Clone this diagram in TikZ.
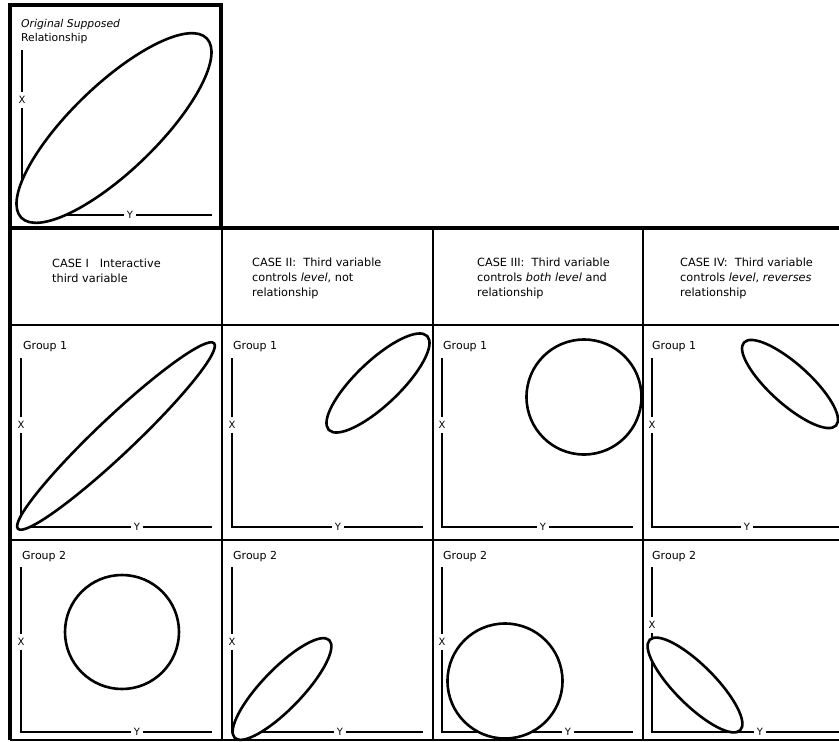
\documentclass[tikz,border=0pt]{standalone}
\usepackage{fontspec}
\setmainfont{DejaVu Sans}
\usepackage{tikz}
\usetikzlibrary{shapes.geometric}

% axes of one plot: name, axis x, top, X label y, corner y, Y label x, end x
\newcommand{\plotaxes}[7]{%
  \coordinate (#1-top) at (#2,#3);
  \coordinate (#1-o) at (#2,#5);
  \coordinate (#1-end) at (#7,#5);
  \node[axlab] (#1-x) at (#2,#4) {X};
  \node[axlab] (#1-y) at (#6,#5) {Y};
  \draw[axis] (#1-top) -- (#1-x);
  \draw[axis] (#1-x) -- (#1-o) -- (#1-y);
  \draw[axis] (#1-y) -- (#1-end);
}

\begin{document}
\begin{tikzpicture}[
  x=1pt, y=-1pt,
  frame/.style={line width=3.8pt},
  rule/.style={line width=2.4pt},
  axis/.style={line width=1.6pt},
  axlab/.style={inner xsep=2.5pt, inner ysep=4pt, font=\fontsize{10}{11}\selectfont},
  blob/.style={draw, fill=white, line width=2.6pt, inner sep=0pt},
  oval/.style={blob, ellipse},
  ring/.style={blob, circle},
  head/.style={anchor=north west, inner sep=0pt, align=left,
    font=\fontsize{11.3}{15}\selectfont},
  grp/.style={anchor=base west, inner sep=0pt, font=\fontsize{11}{12}\selectfont}
]
\useasboundingbox (0,0) rectangle (839,742);

% original relationship
\draw[frame] (10,5) rectangle (221,228);
\node[head, font=\fontsize{10.8}{14}\selectfont] (orig-t) at (21,19)
  {\textit{Original Supposed}\\Relationship};
\plotaxes{orig}{22}{50}{100}{215}{130}{212}
\node[oval, minimum width=258pt, minimum height=86pt, rotate=44] (orig-e) at (114,128) {};

% grid
\draw[frame] (10,228) -- (839,228);
\draw[frame] (10,228) -- (10,740);
\draw[rule] (10,325) -- (839,325);
\draw[rule] (10,540) -- (839,540);
\draw[rule] (10,740) -- (839,740);
\draw[rule] (222,228) -- (222,740);
\draw[rule] (433,228) -- (433,740);
\draw[rule] (643,228) -- (643,740);

% headings
\node[head] (h1) at (52,259) {CASE I \ \ Interactive\\third variable};
\node[head] (h2) at (252,258) {CASE II: \ Third variable\\controls \textit{level}, not\\relationship};
\node[head] (h3) at (477,258) {CASE III: \ Third variable\\controls \textit{both level} and\\relationship};
\node[head] (h4) at (680,258) {CASE IV: \ Third variable\\controls \textit{level}, \textit{reverses}\\relationship};

% group 1
\node[grp] (c1g1-t) at (23,349) {Group 1};
\node[grp] (c2g1-t) at (233,349) {Group 1};
\node[grp] (c3g1-t) at (443,349) {Group 1};
\node[grp] (c4g1-t) at (652,349) {Group 1};
\plotaxes{c1g1}{21}{358}{425}{527}{137}{212}
\plotaxes{c2g1}{232}{358}{425}{527}{338}{423}
\plotaxes{c3g1}{442}{358}{425}{527}{543}{633}
\plotaxes{c4g1}{652}{358}{425}{527}{747}{839}
\node[oval, minimum width=270pt, minimum height=37pt, rotate=43.4] (c1g1-e) at (116,436) {};
\node[oval, minimum width=136pt, minimum height=44pt, rotate=43.6] (c2g1-e) at (378,383) {};
\node[ring, minimum size=115pt] (c3g1-e) at (584,397) {};
\node[oval, minimum width=124pt, minimum height=40pt, rotate=-42] (c4g1-e) at (790,384) {};

% group 2
\node[grp] (c1g2-t) at (22,559) {Group 2};
\node[grp] (c2g2-t) at (233,559) {Group 2};
\node[grp] (c3g2-t) at (443,559) {Group 2};
\node[grp] (c4g2-t) at (652,559) {Group 2};
\plotaxes{c1g2}{21}{567}{642}{732}{137}{212}
\plotaxes{c2g2}{232}{567}{642}{732}{340}{423}
\plotaxes{c3g2}{442}{567}{642}{732}{568}{633}
\plotaxes{c4g2}{652}{567}{625}{732}{760}{839}
\node[ring, minimum size=114pt] (c1g2-e) at (122,632) {};
\node[oval, minimum width=136pt, minimum height=40pt, rotate=46] (c2g2-e) at (282,689) {};
\node[ring, minimum size=115pt] (c3g2-e) at (505,681) {};
\node[oval, minimum width=128pt, minimum height=40pt, rotate=-45] (c4g2-e) at (695,685) {};
\end{tikzpicture}
\end{document}
